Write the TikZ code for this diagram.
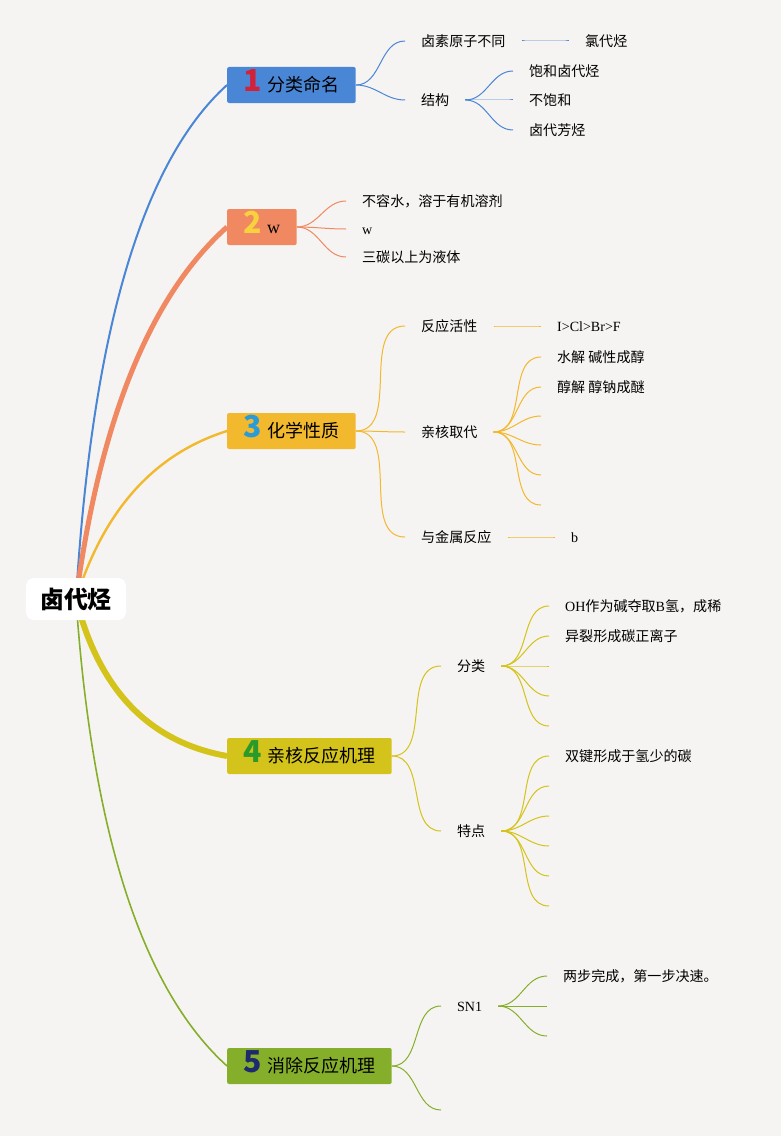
\documentclass[tikz,border=0pt]{standalone}
\usepackage{fontspec}
\setmainfont{Liberation Serif}
\newfontfamily\cjk{Noto Sans CJK SC}
\usetikzlibrary{backgrounds}

\definecolor{bgc}{HTML}{F6F4F2}
\definecolor{c1}{HTML}{4A86D6}
\definecolor{c2}{HTML}{F08862}
\definecolor{c3}{HTML}{F2B82E}
\definecolor{c4}{HTML}{D3C31A}
\definecolor{c5}{HTML}{85AF2A}
\definecolor{n1}{HTML}{D4213A}
\definecolor{n2}{HTML}{F7D23E}
\definecolor{n3}{HTML}{2A9BD9}
\definecolor{n4}{HTML}{2A9A2A}
\definecolor{n5}{HTML}{1E2A6E}

\newcommand\topicnum[2]{{\fontsize{43}{43}\selectfont\bfseries\color{#1}#2}\hspace{2.5mm}}

\tikzset{
  topic/.style={anchor=west, rounded corners=1mm, minimum height=18mm, inner xsep=8.3mm, inner ysep=0pt,
    text height=6.8mm, text depth=0mm, font=\cjk\fontsize{25.6}{30}\selectfont},
  leaf/.style={anchor=west, inner xsep=8mm, inner ysep=0.5mm, text height=5.3mm, text depth=0mm,
    font=\cjk\fontsize{20}{24}\selectfont},
  sub/.style={line width=0.5mm},
}

\begin{document}
\begin{tikzpicture}[x=0.5mm, y=-0.5mm]
    \useasboundingbox (0,0) rectangle (781,1136);

    % root
    \node[fill=white, rounded corners=4mm, minimum width=50mm, minimum height=21mm, text height=9.2mm, text depth=0mm,
      font=\cjk\bfseries\fontsize{34}{40}\selectfont] (root) at (76,599) {卤代烃};

    % 1 分类命名
    \node[topic, fill=c1] (fenlei) at (227,85) {\topicnum{n1}{1}分类命名};
    \node[leaf] (lusu) at (405,41) {卤素原子不同};
    \node[leaf] (lvdai) at (569,41) {氯代烃};
    \node[leaf] (jiegou) at (405,100) {结构};
    \node[leaf] (baohe) at (513,71) {饱和卤代烃};
    \node[leaf] (bubaohe) at (513,100) {不饱和};
    \node[leaf] (fangting) at (513,130) {卤代芳烃};

    % 2 w
    \node[topic, fill=c2] (wuli) at (227,227) {\topicnum{n2}{2}{\rmfamily w}};
    \node[leaf] (burong) at (346,201) {不容水，溶于有机溶剂};
    \node[leaf] (wx) at (346,229) {\rmfamily w};
    \node[leaf] (santan) at (346,257) {三碳以上为液体};

    % 3 化学性质
    \node[topic, fill=c3] (huaxue) at (227,431) {\topicnum{n3}{3}化学性质};
    \node[leaf] (huoxing) at (405,326) {反应活性};
    \node[leaf] (shunxu) at (541,326) {\rmfamily I>Cl>Br>F};
    \node[leaf] (qinhe) at (405,432) {亲核取代};
    \node[leaf] (shuijie) at (541,357) {水解 碱性成醇};
    \node[leaf] (chunjie) at (541,387) {醇解 醇钠成醚};
    \coordinate (qh3) at (541,416);
    \coordinate (qh4) at (541,445);
    \coordinate (qh5) at (541,475);
    \coordinate (qh6) at (541,505);
    \node[leaf] (jinshu) at (405,537) {与金属反应};
    \node[leaf] (bx) at (555,537) {\rmfamily b};

    % 4 亲核反应机理
    \node[topic, fill=c4] (jili) at (227,756) {\topicnum{n4}{4}亲核反应机理};
    \node[leaf] (fenlei4) at (441,666) {分类};
    \node[leaf] (duoqing) at (549,606) {{\rmfamily OH}作为碱夺取{\rmfamily B}氢，成稀};
    \node[leaf] (yilie) at (549,636) {异裂形成碳正离子};
    \coordinate (fl3) at (549,666);
    \coordinate (fl4) at (549,696);
    \coordinate (fl5) at (549,726);
    \node[leaf] (tedian) at (441,831) {特点};
    \node[leaf] (shuangjian) at (549,756) {双键形成于氢少的碳};
    \coordinate (td2) at (549,786);
    \coordinate (td3) at (549,816);
    \coordinate (td4) at (549,846);
    \coordinate (td5) at (549,876);
    \coordinate (td6) at (549,906);

    % 5 消除反应机理
    \node[topic, fill=c5] (xiaochu) at (227,1066) {\topicnum{n5}{5}消除反应机理};
    \node[leaf] (sn1) at (441,1006) {\rmfamily SN1};
    \coordinate (xc2) at (441,1110);
    \node[leaf] (liangbu) at (547,976) {两步完成，第一步决速。};
    \coordinate (sn2) at (547,1006);
    \coordinate (sn3) at (547,1036);

    \begin{scope}[on background layer]
        \fill[bgc] (0,0) rectangle (781,1136);
        % root to topics
        \draw[c1, line width=1mm] (root.center) .. controls (92,333) and (142,162) .. (fenlei.west);
        \draw[c2, line width=2.5mm] (root.center) .. controls (100,420) and (150,296) .. (wuli.west);
        \draw[c3, line width=1.2mm] (root.center) .. controls (104,510) and (154,454) .. (huaxue.west);
        \draw[c4, line width=3mm] (root.center) .. controls (99,690) and (149,742) .. (jili.west);
        \draw[c5, line width=0.8mm] (root.center) .. controls (92,833) and (142,989) .. (xiaochu.west);

        % topics to subtopics
        \foreach \t in {lusu,jiegou} \draw[c1, sub] (fenlei) to[out=0, in=180] (\t);
        \draw[c1, sub] (lusu) to[out=0, in=180] (lvdai);
        \foreach \t in {baohe,bubaohe,fangting} \draw[c1, sub] (jiegou) to[out=0, in=180] (\t);

        \foreach \t in {burong,wx,santan} \draw[c2, sub] (wuli) to[out=0, in=180] (\t);

        \foreach \t in {huoxing,qinhe,jinshu} \draw[c3, sub] (huaxue) to[out=0, in=180] (\t);
        \draw[c3, sub] (huoxing) to[out=0, in=180] (shunxu);
        \foreach \t in {shuijie,chunjie,qh3,qh4,qh5,qh6} \draw[c3, sub] (qinhe) to[out=0, in=180] (\t);
        \draw[c3, sub] (jinshu) to[out=0, in=180] (bx);

        \foreach \t in {fenlei4,tedian} \draw[c4, sub] (jili) to[out=0, in=180] (\t);
        \foreach \t in {duoqing,yilie,fl3,fl4,fl5} \draw[c4, sub] (fenlei4) to[out=0, in=180] (\t);
        \foreach \t in {shuangjian,td2,td3,td4,td5,td6} \draw[c4, sub] (tedian) to[out=0, in=180] (\t);

        \foreach \t in {sn1,xc2} \draw[c5, sub] (xiaochu) to[out=0, in=180] (\t);
        \foreach \t in {liangbu,sn2,sn3} \draw[c5, sub] (sn1) to[out=0, in=180] (\t);
    \end{scope}
\end{tikzpicture}
\end{document}
